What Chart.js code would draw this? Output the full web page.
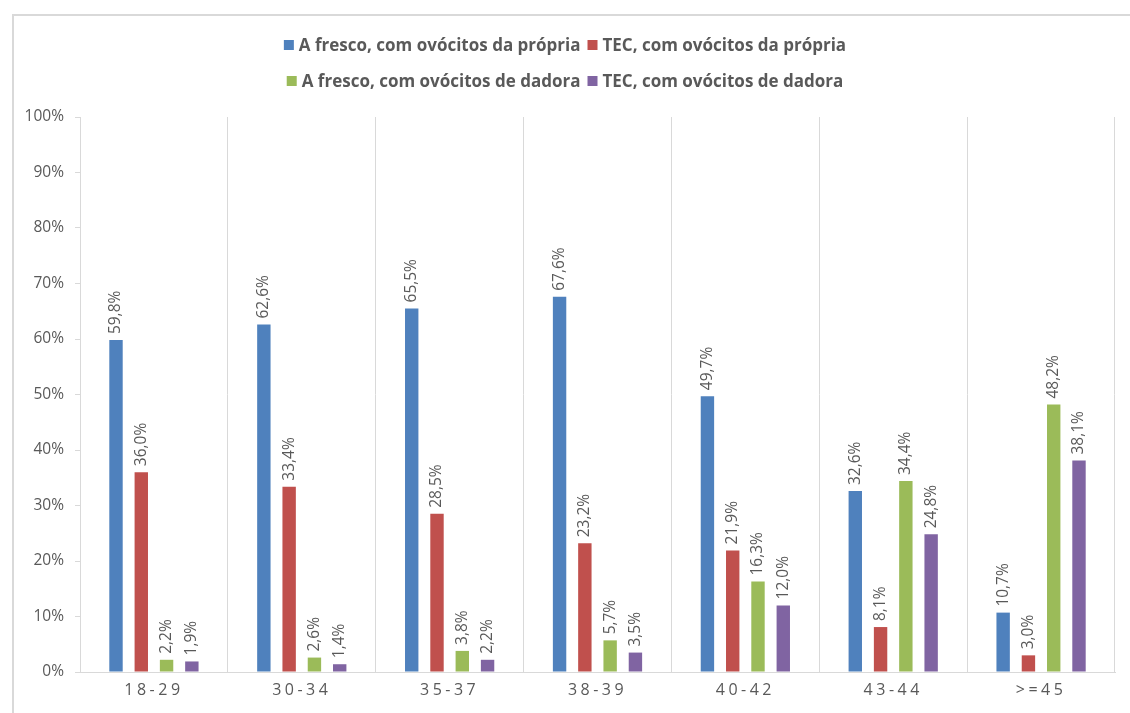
<!DOCTYPE html>
<html>
<head>
<meta charset="utf-8">
<script src="https://cdn.jsdelivr.net/npm/chart.js@4"></script>
<style>
  html, body { margin: 0; padding: 0; background: #fff; }
  #wrap { width: 1130px; height: 713px; }
</style>
</head>
<body>
<div id="wrap"><canvas id="ivf-chart" width="1130" height="713"></canvas></div>
<script>
const categories = ['18-29', '30-34', '35-37', '38-39', '40-42', '43-44', '>=45'];
const seriesNames = [
  'A fresco, com ovócitos da própria',
  'TEC, com ovócitos da própria',
  'A fresco, com ovócitos de dadora',
  'TEC, com ovócitos de dadora'
];
const frescoPropria = [59.8, 62.6, 65.5, 67.6, 49.7, 32.6, 10.7];
const tecPropria = [36.0, 33.4, 28.5, 23.2, 21.9, 8.1, 3.0];
const frescoDadora = [2.2, 2.6, 3.8, 5.7, 16.3, 34.4, 48.2];
const tecDadora = [1.9, 1.4, 2.2, 3.5, 12.0, 24.8, 38.1];
const colors = ['#4f81bd', '#c0504d', '#9bbb59', '#8064a2'];

const gray = '#595959';
const font = '"Open Sans", "DejaVu Sans", sans-serif';

// frame + custom two-row legend
const framePlugin = {
  id: 'frame',
  beforeDraw(chart) {
    const { ctx } = chart;
    ctx.save();
    ctx.strokeStyle = '#d9d9d9';
    ctx.lineWidth = 2;
    ctx.strokeRect(13, 15, 1200, 800);
    ctx.restore();
  },
  afterDraw(chart) {
    const { ctx } = chart;
    ctx.save();
    ctx.letterSpacing = '0px';
    ctx.font = 'bold 17px ' + font;
    ctx.textBaseline = 'middle';
    const rows = [[0, 1], [2, 3]];
    const rowY = [45, 81];
    rows.forEach((row, r) => {
      const widths = row.map(i => 10 + 5 + ctx.measureText(seriesNames[i]).width);
      const total = widths.reduce((a, b) => a + b, 0) + 7 * (row.length - 1);
      let x = chart.width / 2 - total / 2;
      row.forEach((i, k) => {
        ctx.fillStyle = colors[i];
        ctx.fillRect(x, rowY[r] - 5, 10, 10);
        ctx.fillStyle = gray;
        ctx.fillText(seriesNames[i], x + 15, rowY[r] + 1);
        x += widths[k] + 7;
      });
    });
    ctx.restore();
  }
};

// rotated value labels above the bars
const valueLabels = {
  id: 'valueLabels',
  afterDatasetsDraw(chart) {
    const { ctx } = chart;
    ctx.save();
    ctx.font = '15.5px ' + font;
    ctx.fillStyle = gray;
    ctx.textAlign = 'left';
    ctx.textBaseline = 'middle';
    chart.data.datasets.forEach((ds, di) => {
      chart.getDatasetMeta(di).data.forEach((bar, i) => {
        const txt = ds.data[i].toFixed(1).replace('.', ',') + '%';
        ctx.save();
        ctx.translate(bar.x, bar.y - 6);
        ctx.rotate(-Math.PI / 2);
        ctx.fillText(txt, 0, 0);
        ctx.restore();
      });
    });
    ctx.restore();
    // spaced-out category labels (x ticks are drawn after this hook)
    ctx.letterSpacing = '3.5px';
  }
};

const resetSpacing = {
  id: 'resetSpacing',
  afterDraw(chart) { chart.ctx.letterSpacing = '0px'; }
};

new Chart(document.getElementById('ivf-chart').getContext('2d'), {
  type: 'bar',
  data: {
    labels: categories,
    datasets: [frescoPropria, tecPropria, frescoDadora, tecDadora].map((d, i) => ({
      label: seriesNames[i],
      data: d,
      backgroundColor: colors[i],
      categoryPercentage: 0.684,
      barPercentage: 0.53
    }))
  },
  options: {
    responsive: false,
    animation: false,
    events: [],
    layout: { padding: { left: 15, right: 15, top: 117, bottom: 0 } },
    plugins: {
      legend: { display: false },
      tooltip: { enabled: false }
    },
    scales: {
      x: {
        afterFit(scale) { scale.height = 41; },
        grid: { color: '#d9d9d9', drawTicks: false, offset: true },
        border: { color: '#d9d9d9' },
        ticks: { color: gray, font: { family: font, size: 16 }, padding: 9, z: 1 }
      },
      y: {
        min: 0,
        max: 100,
        afterFit(scale) { scale.width = 65; },
        grid: { drawOnChartArea: false, color: '#d9d9d9', tickLength: 5 },
        border: { color: '#d9d9d9' },
        ticks: {
          stepSize: 10,
          color: gray,
          padding: 11,
          font: { family: font, size: 15.5 },
          callback: v => v + '%'
        }
      }
    }
  },
  plugins: [framePlugin, valueLabels, resetSpacing]
});
</script>
</body>
</html>
